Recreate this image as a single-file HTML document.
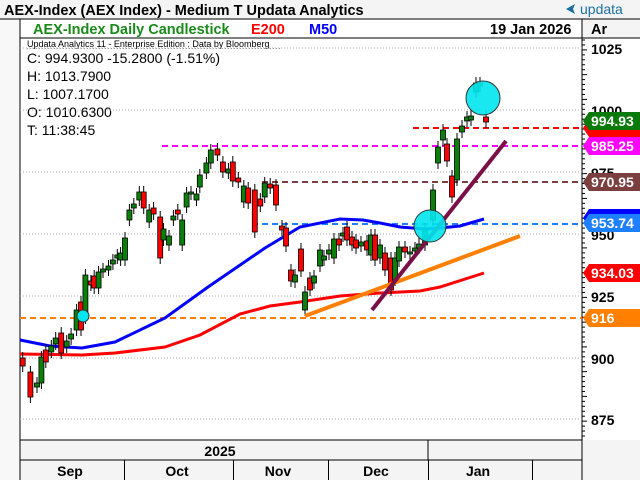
<!DOCTYPE html>
<html><head><meta charset="utf-8"><style>
body{margin:0;width:640px;height:480px;overflow:hidden;background:#fff;font-family:"Liberation Sans",sans-serif}
</style></head><body>
<svg width="640" height="480" xmlns="http://www.w3.org/2000/svg" font-family="Liberation Sans, sans-serif">
<rect x="0" y="0" width="640" height="480" fill="#f4f4f4"/>
<rect x="20" y="38" width="562" height="402" fill="#fff"/>
<rect x="0" y="19" width="20" height="461" fill="#f8f8f8"/>
<rect x="20" y="19" width="562" height="19" fill="#fff"/>
<rect x="583" y="38" width="57" height="402" fill="#fff"/>
<line x1="0" y1="19" x2="640" y2="19" stroke="#000"/>
<line x1="20" y1="19" x2="20" y2="480" stroke="#000"/>
<line x1="582" y1="19" x2="582" y2="480" stroke="#000"/>
<line x1="20" y1="38" x2="640" y2="38" stroke="#000"/>
<line x1="20" y1="440" x2="582" y2="440" stroke="#000"/>
<line x1="20" y1="460" x2="582" y2="460" stroke="#000"/>
<line x1="428" y1="440" x2="428" y2="460" stroke="#000"/>
<g stroke="#000"><line x1="124.5" y1="460" x2="124.5" y2="480"/><line x1="233.5" y1="460" x2="233.5" y2="480"/><line x1="328.5" y1="460" x2="328.5" y2="480"/><line x1="428.5" y1="460" x2="428.5" y2="480"/><line x1="532.5" y1="460" x2="532.5" y2="480"/></g>
<text x="4" y="15" font-size="14.5" font-weight="bold">AEX-Index (AEX Index) - Medium T  Updata Analytics</text>
<text x="580" y="14" font-size="14" fill="#1a6fa0">updata</text>
<path d="M566 9 L575 4 L573 9 L575 14 Z" fill="#1a6fa0"/>
<text x="33" y="34" font-size="14.5" font-weight="bold" fill="#1a8a1a">AEX-Index Daily Candlestick</text>
<text x="251" y="34" font-size="14.5" font-weight="bold" fill="#f00">E200</text>
<text x="309" y="34" font-size="14.5" font-weight="bold" fill="#00f">M50</text>
<text x="490" y="34" font-size="14.5" font-weight="bold">19 Jan 2026</text>
<text x="591" y="34" font-size="14.5" font-weight="bold">Ar</text>
<text x="27" y="47" font-size="9">Updata Analytics 11 - Enterprise Edition : Data by Bloomberg</text>
<line x1="27" y1="48.5" x2="280" y2="48.5" stroke="#999" stroke-dasharray="1,2"/>
<g font-size="14"><text x="27" y="63">C: 994.9300  -15.2800 (-1.51%)</text><text x="27" y="81">H: 1013.7900</text><text x="27" y="99">L: 1007.1700</text><text x="27" y="117">O: 1010.6300</text><text x="27" y="135">T: 11:38:45</text></g>
<g stroke="#aaa" stroke-dasharray="1,2">
<line x1="20" y1="48" x2="582" y2="48"/><line x1="20" y1="110" x2="582" y2="110"/><line x1="20" y1="172" x2="582" y2="172"/><line x1="20" y1="234" x2="582" y2="234"/><line x1="20" y1="296" x2="582" y2="296"/><line x1="20" y1="358" x2="582" y2="358"/><line x1="20" y1="419" x2="582" y2="419"/></g>
<g id="ticks" stroke="#000"></g>
<g font-size="14" font-weight="bold"><text x="591" y="54">1025</text><text x="591" y="116">1000</text><text x="591" y="178">975</text><text x="591" y="240">950</text><text x="591" y="302">925</text><text x="591" y="364">900</text><text x="591" y="425">875</text></g>
<g font-size="14" font-weight="bold" text-anchor="middle"><text x="220" y="456">2025</text><text x="70" y="476">Sep</text><text x="177" y="476">Oct</text><text x="278" y="476">Nov</text><text x="376" y="476">Dec</text><text x="478" y="476">Jan</text></g>
<g stroke-width="2" stroke-dasharray="6,4" fill="none">
<line x1="413" y1="128" x2="582" y2="128" stroke="#f00"/>
<line x1="162" y1="146" x2="582" y2="146" stroke="#f0f"/>
<line x1="262" y1="182" x2="582" y2="182" stroke="#7b3f3f"/>
<line x1="252" y1="224" x2="582" y2="224" stroke="#1e7fff"/>
<line x1="20" y1="318" x2="582" y2="318" stroke="#ff8000"/>
</g>
<polyline fill="none" stroke="#00f" stroke-width="3" points="20,340 50,346 82,348 115,342 165,318 208,287 265,248 300,227 340,219 363,220 380,223 400,227 425,229 440,228 460,226 484,219"/>
<polyline fill="none" stroke="#f00" stroke-width="3" points="20,354 82,355 115,353 165,347 200,335 240,314 270,306 300,302 340,296 380,293 420,291 440,287 484,273"/>
<g id="cd"></g>
<line x1="305" y1="316" x2="520" y2="236" stroke="#ff8000" stroke-width="4"/>
<line x1="372" y1="310" x2="506" y2="141" stroke="#7a1048" stroke-width="4"/>
<circle cx="483" cy="98" r="17" fill="#00e5ee" stroke="#333" fill-opacity="0.9"/>
<circle cx="430" cy="226" r="16" fill="#00e5ee" stroke="#333" fill-opacity="0.9"/>
<circle cx="83" cy="316" r="6" fill="#00e5ee" stroke="#333"/>
<g id="lab" font-size="14" font-weight="bold" fill="#fff"></g>
</svg>
<script>
var ns="http://www.w3.org/2000/svg";
function el(p,t,a){var e=document.createElementNS(ns,t);for(var k in a)e.setAttribute(k,a[k]);p.appendChild(e);return e;}
var tk=document.getElementById('ticks');
for(var y=40;y<440;y+=4.95){el(tk,'line',{x1:582,y1:y,x2:(Math.round((y-48)/4.95)%5==0?587:585),y2:y});}
var a=[[22,358,366,'r'],[29,372,397,'r'],[35,383,387,'g'],[39,357,383,'g'],[43,350,362,'r'],[48,346,352,'g'],[52,338,344,'g'],[57,333,353,'r'],[62,341,347,'g'],[66,334,339,'g'],[71,310,330,'g'],[75,302,330,'r'],[79,275,318,'g'],[84,281,285,'r'],[87,276,288,'r'],[91,272,288,'g'],[95,269,272,'g'],[100,266,270,'g'],[104,260,264,'g'],[108,255,258,'g'],[111,253,260,'g'],[115,238,260,'g'],[119,210,220,'g'],[123,204,208,'g'],[128,192,200,'g'],[132,192,208,'r'],[137,210,222,'g'],[141,208,214,'r'],[147,217,258,'r'],[150,229,240,'g'],[155,236,245,'g'],[159,216,220,'g'],[163,210,214,'r'],[167,220,245,'g'],[171,193,207,'g'],[175,192,194,'g'],[180,194,200,'g'],[183,175,187,'g'],[189,163,173,'g'],[193,150,163,'g'],[199,149,155,'r'],[204,162,172,'r'],[209,169,173,'g'],[213,162,181,'r'],[218,178,182,'r'],[223,186,202,'g'],[227,188,203,'r'],[233,190,232,'r'],[238,199,206,'r'],[242,183,197,'g'],[247,184,188,'r']];
a.forEach(function(c){c[0]=15+(c[0]-15)*1.1;});
var b=[[276,185,205,'r'],[282,226,230,'r'],[286,228,246,'r'],[291,270,281,'r'],[295,275,282,'g'],[301,249,271,'r'],[305,292,310,'g'],[310,278,290,'r'],[314,276,283,'g'],[320,250,266,'g'],[324,256,260,'g'],[329,250,254,'g'],[334,239,258,'g'],[339,239,245,'r'],[343,233,236,'g'],[347,227,240,'r'],[352,237,245,'r'],[356,240,248,'r'],[361,242,246,'g'],[367,241,250,'r'],[371,235,255,'g'],[375,235,260,'r'],[380,245,258,'g'],[385,253,270,'r'],[391,258,290,'r'],[395,258,280,'g'],[399,247,261,'g'],[405,247,252,'r'],[410,252,254,'g'],[415,248,251,'g'],[419,244,248,'g'],[425,229,245,'g'],[433,190,220,'g'],[438,147,163,'g'],[443,130,140,'g'],[447,144,161,'r'],[452,176,197,'r'],[457,139,180,'g'],[462,126,132,'g'],[467,117,121,'g'],[471,116,120,'g'],[476,83,92,'g'],[480,83,86,'g'],[486,117,122,'r']];
var d=a.concat(b);
var cd=document.getElementById('cd');
d.forEach(function(c){el(cd,'line',{x1:c[0],y1:c[1]-6,x2:c[0],y2:c[2]+6,stroke:'#000'});el(cd,'rect',{x:c[0]-2.5,y:c[1],width:5,height:Math.max(1,c[2]-c[1]),fill:c[3]=='g'?'#0a800a':'#f00',stroke:'#000','stroke-width':0.8});});
var lb=document.getElementById('lab');
[[128,'#f00',''],[121,'#0a7a0a','994.93'],[146,'#f0f','985.25'],[182,'#7b3f3f','970.95'],[218,'#00f',''],[223,'#1e7fff','953.74'],[273,'#f00','934.03'],[318,'#ff8000','916']].forEach(function(l){var y=l[0];el(lb,'path',{d:'M583 '+y+' L589 '+(y-9)+' L640 '+(y-9)+' L640 '+(y+9)+' L589 '+(y+9)+' Z',fill:l[1]});if(l[2]){var t=el(lb,'text',{x:591,y:y+5});t.textContent=l[2];}});
</script>
</body></html>
